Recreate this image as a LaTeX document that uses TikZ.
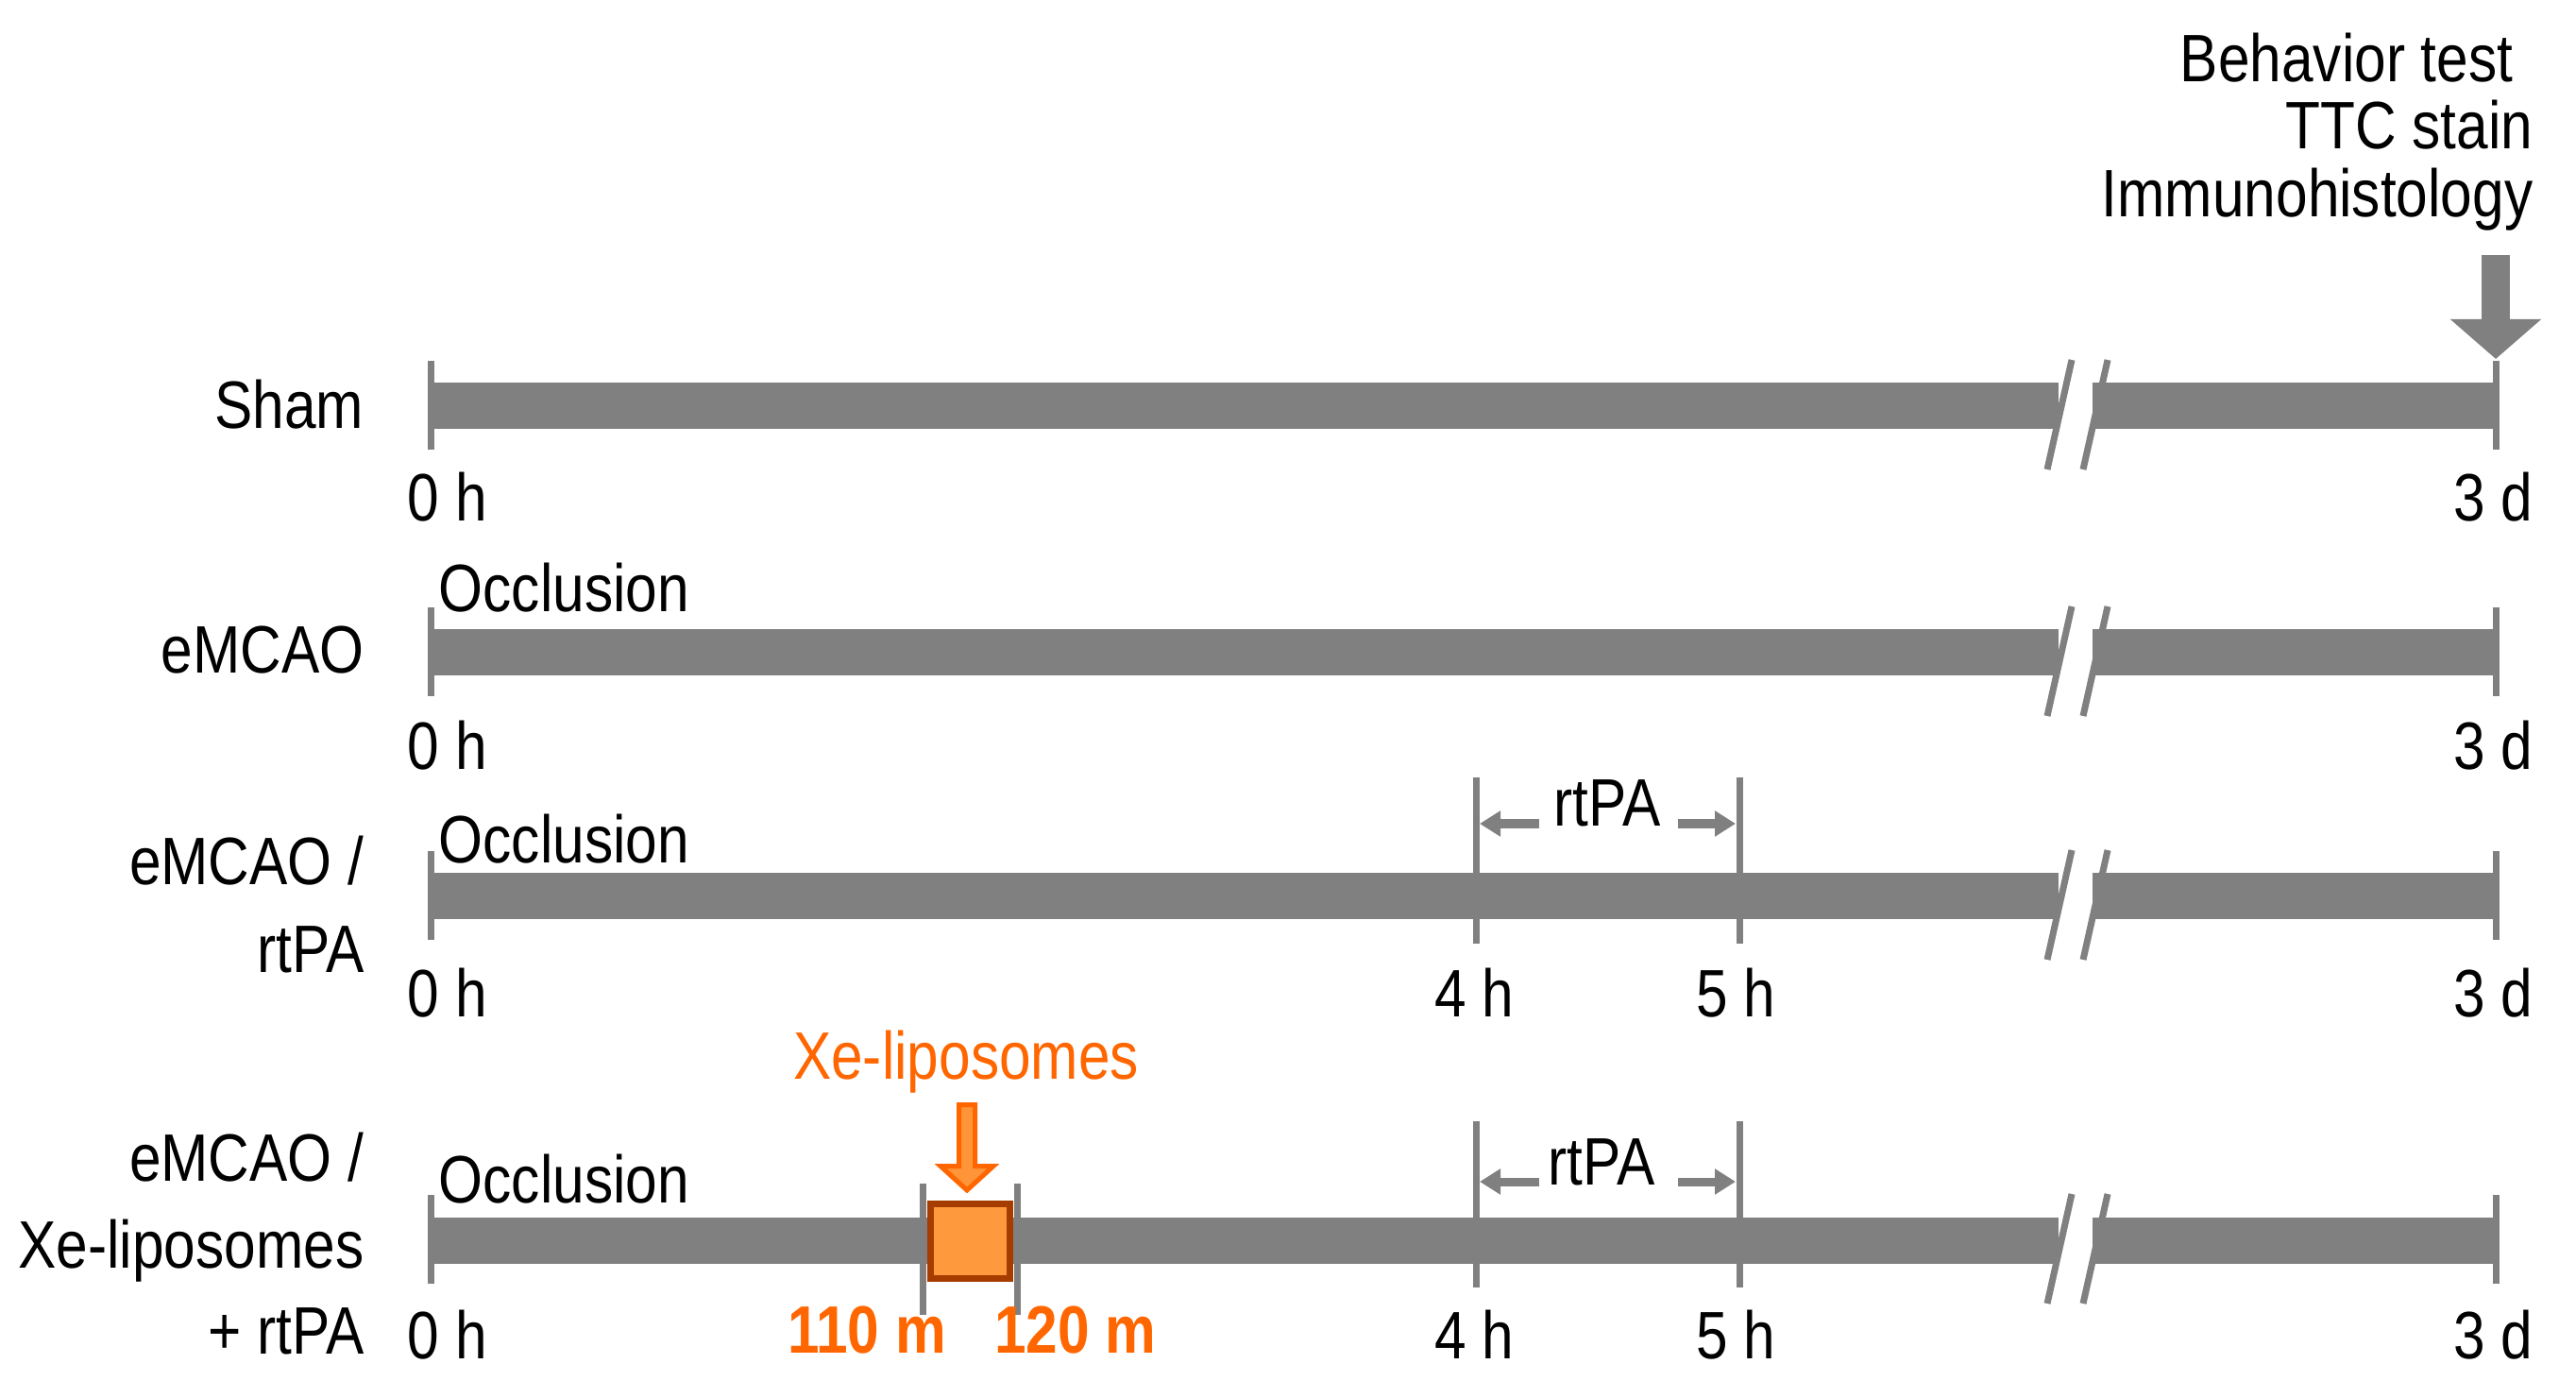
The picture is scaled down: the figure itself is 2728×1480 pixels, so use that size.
\documentclass[tikz,border=0pt]{standalone}
\usepackage{fontspec}
\setmainfont[FakeStretch=0.85]{Liberation Sans}
\usetikzlibrary{arrows.meta}
\definecolor{barg}{HTML}{808080}
\definecolor{orng}{HTML}{FF6600}
\definecolor{boxfill}{HTML}{FF993D}
\definecolor{boxedge}{HTML}{A53C00}
\definecolor{arrfill}{HTML}{FF9438}
\tikzset{
  lbl/.style={inner sep=0pt, font=\fontsize{20.2pt}{24pt}\selectfont},
  olbl/.style={lbl, text=orng},
  obold/.style={lbl, text=orng, font=\fontsize{20.2pt}{24pt}\selectfont\bfseries},
  tickline/.style={draw=barg, line width=0.07cm},
  slashline/.style={draw=barg, line width=0.07cm},
  rtarrow/.style={draw=barg, line width=0.09cm, -{Triangle[length=0.22cm,width=0.26cm]}},
  bigarrow/.style={draw=barg, line width=0.30cm, -{Triangle[length=0.42cm,width=0.94cm]}},
  xebox/.style={fill=boxfill, draw=boxedge, line width=0.07cm},
  xearrow/.style={fill=arrfill, draw=orng, line width=0.05cm, line join=miter},
}
\begin{document}
\begin{tikzpicture}[x=0.01cm,y=-0.01cm]
\useasboundingbox (0,0) rectangle (2728,1480);

% ---------- bars with break and end ticks ----------
\foreach \c/\n in {430/1,691/2,949/3,1313/4} {
  \fill[barg] (456,\c-24.5) rectangle (2180,\c+24.5);
  \fill[barg] (2216,\c-24.5) rectangle (2643,\c+24.5);
  \draw[slashline] (2194,\c-49) -- (2168,\c+67);
  \draw[slashline] (2232,\c-49) -- (2206,\c+67);
  \coordinate (s\n) at (456,\c-48);
  \coordinate (e\n) at (2643,\c-48);
  \draw[tickline] (s\n) -- (456,\c+46);
  \draw[tickline] (e\n) -- (2643,\c+46);
}

% ---------- top labels and arrow ----------
\node[lbl, anchor=base east] (bt1) at (2662,87) {Behavior test};
\node[lbl, anchor=base east] (bt2) at (2683,158) {TTC stain};
\node[lbl, anchor=base east] (bt3) at (2683,230) {Immunohistology};
\coordinate (arrtop) at (2643,270);
\coordinate (arrtip) at (2643,380);
\draw[bigarrow] (arrtop) -- (arrtip);

% ---------- row labels ----------
\node[lbl, anchor=base east] (lsham) at (386,454) {Sham};
\node[lbl, anchor=base east] (lemcao) at (386,713) {eMCAO};
\node[lbl, anchor=base east] (lr3a) at (386,937) {eMCAO /};
\node[lbl, anchor=base east] (lr3b) at (386,1029) {rtPA};
\node[lbl, anchor=base east] (lr4a) at (386,1250) {eMCAO /};
\node[lbl, anchor=base east] (lr4b) at (386,1342) {Xe-liposomes};
\node[lbl, anchor=base east] (lr4c) at (386,1433) {+ rtPA};

% ---------- time labels ----------
\foreach \b/\n in {552/1,815/2,1077/3,1438/4} {
  \node[lbl, anchor=base west] (zero\n) at (431,\b) {0 h};
  \node[lbl, anchor=base east] (three\n) at (2683,\b) {3 d};
}
\foreach \b/\n in {648/2,914/3,1273/4} {
  \node[lbl, anchor=base west] (occ\n) at (464,\b) {Occlusion};
}

% ---------- rtPA intervals ----------
\foreach \c/\t/\b/\rx/\n in {949/875/1077/1702/3,1313/1254/1438/1696/4} {
  \draw[tickline] (1563,\c-126) -- (1563,\c+50);
  \draw[tickline] (1842,\c-126) -- (1842,\c+50);
  \node[lbl, anchor=base] (four\n) at (1561,\b) {4 h};
  \node[lbl, anchor=base] (five\n) at (1838,\b) {5 h};
  \node[lbl, anchor=base] (rt\n) at (\rx,\t) {rtPA};
  \coordinate (la\n) at (1630,\t-3);
  \coordinate (lt\n) at (1567,\t-3);
  \coordinate (ra\n) at (1777,\t-3);
  \coordinate (rtip\n) at (1838,\t-3);
  \draw[rtarrow] (la\n) -- (lt\n);
  \draw[rtarrow] (ra\n) -- (rtip\n);
}

% ---------- Xe-liposomes ----------
\draw[tickline] (977,1253) -- (977,1392);
\draw[tickline] (1077,1253) -- (1077,1392);
\draw[xebox] (985.5,1274.5) rectangle (1069.5,1353.5);
\draw[xearrow] (1015.5,1169.5) -- (1032.5,1169.5) -- (1032.5,1234.5) -- (1052,1234.5)
  -- (1024,1260) -- (996,1234.5) -- (1015.5,1234.5) -- cycle;
\node[olbl, anchor=base] (xelbl) at (1023,1142) {Xe-liposomes};
\node[obold, anchor=base] (m110) at (918,1432) {110 m};
\node[obold, anchor=base] (m120) at (1139,1432) {120 m};
\end{tikzpicture}
\end{document}
